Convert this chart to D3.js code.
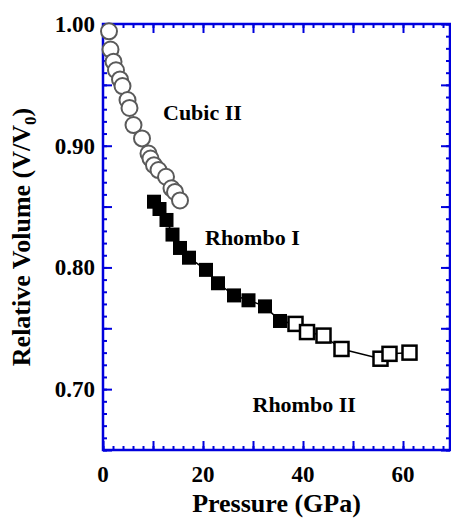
<!DOCTYPE html>
<html>
<head>
<meta charset="utf-8">
<script src="https://cdn.jsdelivr.net/npm/d3@7"></script>
<style>
  body { margin: 0; background: #fff; }
  text { font-family: "Liberation Serif", "Times New Roman", serif; font-weight: bold; fill: #000; }
</style>
</head>
<body>
<div id="chart"></div>
<script>
// Cubic II (open circles)
const cubicP = [1.2, 1.5, 2.1, 2.6, 3.4, 3.9, 4.9, 5.3, 6.1, 7.8, 9.1, 9.5, 10.2, 11.1, 12.6, 13.7, 14.4, 15.4];
const cubicV = [0.994, 0.979, 0.969, 0.962, 0.9545, 0.949, 0.9375, 0.931, 0.917, 0.906, 0.8936, 0.8895, 0.884, 0.880, 0.8745, 0.865, 0.862, 0.855];

// Rhombo I (filled squares)
const rhombo1P = [10.2, 11.3, 12.7, 13.9, 15.4, 17.2, 20.6, 23.0, 26.2, 29.1, 32.4, 35.4];
const rhombo1V = [0.854, 0.848, 0.839, 0.827, 0.816, 0.808, 0.798, 0.787, 0.777, 0.773, 0.768, 0.756];

// Rhombo II (open squares)
const rhombo2P = [38.5, 40.8, 44.1, 47.7, 55.5, 57.3, 61.3];
const rhombo2V = [0.7536, 0.7469, 0.744, 0.733, 0.725, 0.729, 0.730];

const xTickLabels = [0, 20, 40, 60];
const yTickLabels = [0.70, 0.80, 0.90, 1.00];

const phaseNames = ["Cubic II", "Rhombo I", "Rhombo II"];
const phaseLabelP = [12.0, 20.4, 29.9];
const phaseLabelV = [0.921, 0.8188, 0.681];

const width = 451, height = 521;
const margin = { top: 24, right: 1, bottom: 71, left: 103 };
const axisColor = "#0000dd";

const svg = d3.select("#chart").append("svg")
    .attr("width", width)
    .attr("height", height);

const x = d3.scaleLinear()
    .domain([0, 69.4])
    .range([margin.left, width - margin.right]);

const y = d3.scaleLinear()
    .domain([0.65, 1.0])
    .range([height - margin.bottom, margin.top]);

const x0 = x.range()[0], x1 = x.range()[1];
const y0 = y.range()[0], y1 = y.range()[1];

// ticks: minor every 2 GPa / 0.01, major every 10 GPa / 0.05
const xMinor = d3.range(0, 69.4, 2);
const xMajor = d3.range(0, 69.4, 10);
const yMinor = d3.range(65, 101, 1).map(d => d / 100);
const yMajor = d3.range(65, 101, 5).map(d => d / 100);

function styleAxis(g) {
    g.select(".domain").remove();
    g.selectAll("line").attr("stroke", axisColor).attr("stroke-width", 2);
}

const addAxis = (gen, tx, ty, vals, size) => {
    svg.append("g")
        .attr("transform", `translate(${tx},${ty})`)
        .call(gen.tickValues(vals).tickSize(size).tickFormat(""))
        .call(styleAxis);
};

// inward ticks on all four sides
addAxis(d3.axisBottom(x), 0, y0, xMinor, -4);
addAxis(d3.axisBottom(x), 0, y0, xMajor, -9);
addAxis(d3.axisTop(x), 0, y1, xMinor, -4);
addAxis(d3.axisTop(x), 0, y1, xMajor, -9);
addAxis(d3.axisLeft(y), x0, 0, yMinor, -4);
addAxis(d3.axisLeft(y), x0, 0, yMajor, -9);
addAxis(d3.axisRight(y), x1, 0, yMinor, -4);
addAxis(d3.axisRight(y), x1, 0, yMajor, -9);

// frame
svg.append("rect")
    .attr("x", x0).attr("y", y1)
    .attr("width", x1 - x0).attr("height", y0 - y1)
    .attr("fill", "none")
    .attr("stroke", axisColor)
    .attr("stroke-width", 2.5);

// tick labels
svg.append("g").selectAll("text")
    .data(xTickLabels)
    .enter().append("text")
    .attr("x", d => x(d))
    .attr("y", y0 + 32)
    .attr("text-anchor", "middle")
    .attr("font-size", 23)
    .text(d => d);

svg.append("g").selectAll("text")
    .data(yTickLabels)
    .enter().append("text")
    .attr("x", x0 - 8)
    .attr("y", d => y(d) + 8)
    .attr("text-anchor", "end")
    .attr("font-size", 23)
    .text(d => d3.format(".2f")(d));

// axis titles
svg.append("text")
    .attr("x", (x0 + x1) / 2)
    .attr("y", 512)
    .attr("text-anchor", "middle")
    .attr("font-size", 26)
    .text("Pressure (GPa)");

const yTitle = svg.append("text")
    .attr("transform", `translate(30,${(y0 + y1) / 2}) rotate(-90)`)
    .attr("text-anchor", "middle")
    .attr("font-size", 26);
yTitle.append("tspan").text("Relative Volume (V/V");
yTitle.append("tspan").attr("font-size", 17).attr("dy", 6).text("0");
yTitle.append("tspan").attr("dy", -6).text(")");

// squares connected by a thin line
const sqP = rhombo1P.concat(rhombo2P);
const sqV = rhombo1V.concat(rhombo2V);
const line = d3.line()
    .x((d, i) => x(sqP[i]))
    .y((d, i) => y(sqV[i]));

svg.append("path")
    .datum(sqP)
    .attr("d", line)
    .attr("fill", "none")
    .attr("stroke", "#000")
    .attr("stroke-width", 1.5);

svg.append("g").selectAll("rect")
    .data(rhombo1P)
    .enter().append("rect")
    .attr("x", (d, i) => x(d) - 7)
    .attr("y", (d, i) => y(rhombo1V[i]) - 7)
    .attr("width", 14)
    .attr("height", 14)
    .attr("fill", "#000");

svg.append("g").selectAll("rect")
    .data(rhombo2P)
    .enter().append("rect")
    .attr("x", (d, i) => x(d) - 7)
    .attr("y", (d, i) => y(rhombo2V[i]) - 7)
    .attr("width", 14)
    .attr("height", 14)
    .attr("fill", "#fff")
    .attr("stroke", "#000")
    .attr("stroke-width", 2.5);

// circles
svg.append("g").selectAll("circle")
    .data(cubicP)
    .enter().append("circle")
    .attr("cx", d => x(d))
    .attr("cy", (d, i) => y(cubicV[i]))
    .attr("r", 8)
    .attr("fill", "#fff")
    .attr("stroke", "#5a5a5a")
    .attr("stroke-width", 2);

// phase labels
svg.append("g").selectAll("text")
    .data(phaseNames)
    .enter().append("text")
    .attr("x", (d, i) => x(phaseLabelP[i]))
    .attr("y", (d, i) => y(phaseLabelV[i]))
    .attr("font-size", 22)
    .text(d => d);
</script>
</body>
</html>
